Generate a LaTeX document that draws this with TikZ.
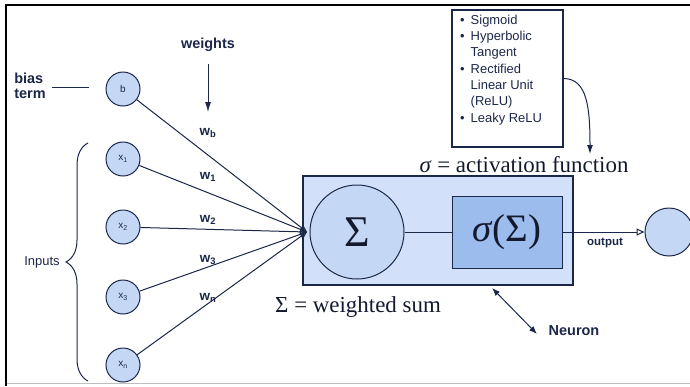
\documentclass[tikz,border=0pt]{standalone}
\usepackage{fontspec}
\setmainfont{Liberation Serif}
\setsansfont{Liberation Sans}
\usetikzlibrary{arrows.meta,decorations.pathreplacing}
\definecolor{ink}{HTML}{1B2748}
\definecolor{darkink}{HTML}{141A2E}
\definecolor{circfill}{HTML}{C4D8F6}
\definecolor{boxfill}{HTML}{D2E1F9}
\definecolor{innerfill}{HTML}{9DBCEE}
\begin{document}
\begin{tikzpicture}[x=1bp,y=-1bp,
  every node/.style={text=ink},
  incirc/.style={circle,draw=ink,fill=circfill,line width=1bp,minimum size=34bp,inner sep=0pt,font=\fontsize{10}{12}\selectfont\sffamily},
  lbl/.style={font=\fontsize{14.5}{17}\selectfont\sffamily\bfseries,inner sep=0pt},
  wlbl/.style={font=\fontsize{13.5}{16}\selectfont\sffamily\bfseries,inner sep=0pt},
  conn/.style={draw=ink,line width=1bp},
  inarrow/.style={conn,-{Triangle[open,length=7bp,width=6bp]}},
  serifbig/.style={font=\fontsize{23}{27}\selectfont,inner sep=0pt,text=darkink}
]
\useasboundingbox (0,0) rectangle (690,386);
% frame
\draw[line width=2bp,black] (6,386) -- (6,5) -- (690,5);
\draw[line width=0.6bp,black!25] (7,383) -- (690,383);

% input nodes
\node[incirc] (b) at (123,89) {b};
\node[incirc] (x1) at (123,159) {x\textsubscript{1}};
\node[incirc] (x2) at (123,227) {x\textsubscript{2}};
\node[incirc] (x3) at (123,297) {x\textsubscript{3}};
\node[incirc] (xn) at (123,365) {x\textsubscript{n}};

% bias term
\node[lbl,align=left] (bias) at (30,86) {bias\\[-2bp]term};
\coordinate (bl1) at (52,87);
\coordinate (bl2) at (89,87);
\draw[conn] (bl1) -- (bl2);

% weights
\node[lbl] (weights) at (208,45) {weights};
\coordinate (wa1) at (208,64);
\coordinate (wa2) at (208,112);
\draw[conn,-{Latex[length=10bp,width=6bp]}] (wa1) -- (wa2);

% brace
\coordinate (br1) at (88,381);
\coordinate (br2) at (88,143);
\draw[conn,decorate,decoration={brace,amplitude=22bp}] (br1) -- (br2);
\node[font=\fontsize{13}{15}\selectfont\sffamily,inner sep=0pt] (inputs) at (42,262) {Inputs};

% neuron
\node[draw=ink,fill=boxfill,line width=1.2bp,minimum width=270bp,minimum height=109bp,inner sep=0pt] (neuron) at (438,230.5) {};
\node[circle,draw=ink,fill=circfill,line width=1bp,minimum size=94bp,inner sep=0pt,font=\fontsize{44}{48}\selectfont,text=darkink] (sum) at (357,232) {Σ};
\node[draw=ink,fill=innerfill,line width=1bp,minimum width=110bp,minimum height=72bp,inner sep=0pt,font=\fontsize{39}{43}\selectfont,text=darkink] (act) at (507,232) {\textit{σ}(Σ)};
\draw[conn] (sum) -- (act);

% converging arrows
\coordinate (conv) at (307,232);
\draw[inarrow] (b) -- (conv);
\draw[inarrow] (x1) -- (conv);
\draw[inarrow] (x2) -- (conv);
\draw[inarrow] (x3) -- (conv);
\draw[inarrow] (xn) -- (conv);

% weight labels
\node[wlbl] (wb) at (208,133) {w\textsubscript{b}};
\node[wlbl] (w1) at (208,177) {w\textsubscript{1}};
\node[wlbl] (w2) at (208,220) {w\textsubscript{2}};
\node[wlbl] (w3) at (208,260) {w\textsubscript{3}};
\node[wlbl] (wn) at (208,298) {w\textsubscript{n}};

% output
\node[circle,draw=ink,fill=circfill,line width=1bp,minimum size=48bp,inner sep=0pt] (out) at (669,232) {};
\draw[conn,-{Triangle[open,length=8bp,width=7bp]}] (act) -- (out);
\node[font=\fontsize{11.5}{14}\selectfont\sffamily\bfseries,inner sep=0pt] (outlbl) at (605,243) {output};

% texts
\node[serifbig] (wsum) at (358,307) {Σ = weighted sum};
\node[serifbig] (actfn) at (524,165) {\textit{σ} = activation function};

% activation list
\node[draw=ink,line width=1.2bp,minimum width=111bp,minimum height=137bp,inner sep=0pt] (actbox) at (507.5,78.5) {};
\node[anchor=north west,inner sep=0pt,font=\fontsize{13}{16.4}\selectfont\sffamily] (actlist) at (460,12.5)
{\begin{tabular}{@{}l@{\hspace{6bp}}l@{}}
• & Sigmoid\\
• & Hyperbolic\\
  & Tangent\\
• & Rectified\\
  & Linear Unit\\
  & (ReLU)\\
• & Leaky ReLU
\end{tabular}};
\coordinate (actend) at (590,154);
\draw[conn,-{Latex[length=9bp,width=6bp]}] (actbox.east) .. controls +(24,0) and +(0,-45) .. (actend);

% neuron label
\coordinate (na) at (492,288);
\coordinate (nb) at (537,334);
\draw[conn,{Latex[length=8bp,width=6bp]}-{Latex[length=8bp,width=6bp]}] (na) -- (nb);
\node[lbl] (neuronlbl) at (574,331) {Neuron};
\end{tikzpicture}
\end{document}
